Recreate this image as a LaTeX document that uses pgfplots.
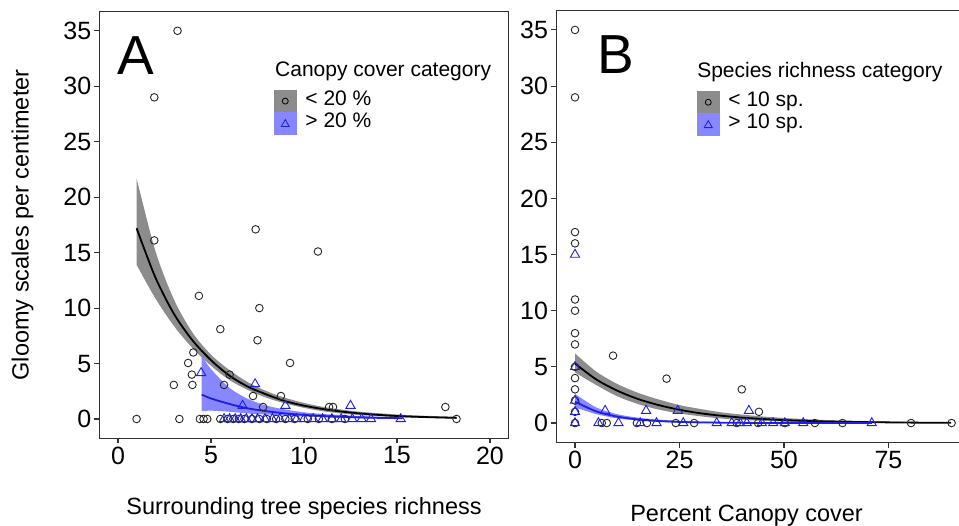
\documentclass[border=0pt]{standalone}
\usepackage{pgfplots}
\pgfplotsset{compat=1.18}
\usepackage{pgfplotstable}
\usepgfplotslibrary{fillbetween}
\usepackage{fontspec}
\setmainfont{Liberation Sans}

\definecolor{bandgray}{HTML}{8C8C8C}
\definecolor{bandblue}{HTML}{8787FF}
\definecolor{ptblue}{HTML}{1E1EE6}
\definecolor{framegray}{HTML}{333333}

% fitted curves with confidence bands
\pgfplotstableread{
x y lo hi
1 17.2 13.9 21.7
2 12.8 10.9 15.2
3 9.5 8.4 10.8
4 7.1 6.4 7.8
5 5.3 4.8 5.8
6 3.9 3.5 4.4
7 2.9 2.6 3.3
8 2.2 1.9 2.5
9 1.6 1.4 1.9
10 1.2 1.0 1.45
11 0.9 0.7 1.1
12 0.67 0.5 0.85
13 0.5 0.35 0.65
14 0.37 0.25 0.52
15 0.27 0.17 0.4
16 0.2 0.12 0.32
17 0.15 0.08 0.26
18.2 0.1 0.05 0.2
}\fitAblack
\pgfplotstableread{
x y lo hi
4.5 2.2 0.7 5.7
5 1.85 0.75 4.5
6 1.35 0.65 2.8
7 0.95 0.5 1.8
8 0.7 0.4 1.2
9 0.5 0.3 0.85
10 0.37 0.22 0.6
11 0.27 0.15 0.45
12 0.2 0.1 0.35
13 0.14 0.07 0.27
14 0.1 0.05 0.2
15.3 0.07 0.03 0.15
}\fitAblue
\pgfplotstableread{
x y lo hi
0 5.3 4.5 6.2
5 3.9 3.4 4.6
10 2.9 2.4 3.5
15 2.15 1.7 2.7
20 1.6 1.2 2.1
25 1.18 0.85 1.6
30 0.87 0.6 1.25
35 0.65 0.4 0.95
40 0.48 0.28 0.75
45 0.36 0.2 0.58
50 0.26 0.13 0.45
55 0.2 0.09 0.35
60 0.14 0.06 0.27
70 0.08 0.03 0.17
80 0.04 0.01 0.1
90 0.02 0.005 0.07
}\fitBblack
\pgfplotstableread{
x y lo hi
0 1.9 1.4 2.6
5 1.05 0.8 1.4
10 0.58 0.42 0.8
15 0.32 0.22 0.48
20 0.18 0.11 0.3
25 0.1 0.05 0.2
30 0.055 0.025 0.13
40 0.017 0.006 0.06
50 0.005 0.001 0.03
60 0.0015 0 0.015
71 0.0004 0 0.008
}\fitBblue

% observations
\pgfplotstableread{
x y
1.0 0
3.2 35
1.95 29
1.95 16.1
4.35 11.1
7.4 17.1
10.75 15.1
7.6 10.0
5.5 8.1
7.5 7.1
9.25 5.05
3.77 5.05
3.97 4.0
4.05 6.0
6.0 4.0
3.0 3.07
4.0 3.07
5.7 3.07
7.26 2.07
8.76 2.07
7.8 1.08
11.35 1.08
11.56 1.08
17.6 1.08
3.3 0
4.4 0
4.6 0
4.8 0
5.5 0
5.9 0
6.2 0
6.5 0
6.8 0
7.2 0
7.6 0
8.0 0
8.5 0
9.0 0
9.5 0
10.2 0
10.8 0
11.5 0
12.2 0
18.2 0
}\ptsAblack
\pgfplotstableread{
x y
4.47 4.15
7.37 3.15
6.7 1.2
9.0 1.2
12.5 1.2
5.7 0
6.0 0
6.3 0
6.6 0
6.9 0
7.2 0
7.5 0
7.9 0
8.3 0
8.7 0
9.2 0
9.6 0
10.0 0
10.5 0
11.0 0
11.5 0
12.0 0
12.6 0
13.1 0
13.6 0
15.2 0
}\ptsAblue
\pgfplotstableread{
x y
0 35
0 29
0 17
0 16
0 11
0 10
0 8
0 7
0 5
0 4
0 3
0 2
0 1
0 0
9.1 6.0
21.9 3.95
39.9 3.0
44.0 1.0
6.4 0
7.6 0
14.8 0
17.2 0
24.1 0
28.5 0
38.7 0
43.8 0
50.2 0
57.4 0
64.0 0
80.4 0
90.1 0
}\ptsBblack
\pgfplotstableread{
x y
0 15
0 5
0 2
0 1
0 0
7.2 1.1
17.0 1.1
24.6 1.1
41.6 1.1
5.6 0
10.4 0
15.6 0
19.5 0
25.9 0
33.9 0
37.5 0
39.5 0
41.1 0
44.7 0
47.4 0
50.2 0
54.6 0
71.0 0
}\ptsBblue

\pgfplotsset{
  panel/.style={
    scale only axis,
    axis line style={framegray, line width=1.1pt},
    tick style={framegray, line width=1.1pt},
    tick align=outside,
    major tick length=5pt,
    xtick pos=bottom, ytick pos=left,
    ymin=-1.75, ymax=36.75,
    ytick={0,5,...,35},
    /pgf/number format/assume math mode=true,
    ticklabel style={font=\fontsize{25}{25}\selectfont, inner sep=3pt},
    label style={font=\fontsize{23.5}{24}\selectfont},
    legend cell align=left,
    legend style={draw=none, fill=none, inner sep=0pt, outer sep=0pt,
      row sep=0pt, anchor=north west,
      font=\fontsize{21}{21}\selectfont,
      nodes={inner sep=0pt, text height=15pt, text depth=7pt},
      /tikz/every odd column/.append style={column sep=9pt}},
  },
  band/.style={draw=none, forget plot, smooth},
  fit/.style={line width=1.8pt, forget plot, smooth},
  keygray/.style={legend image code/.code={
      \fill[bandgray] (0pt,-11pt) rectangle (22pt,11pt);
      \draw[black, line width=0.8pt] (11pt,0pt) circle (3pt);}},
  keyblue/.style={legend image code/.code={
      \fill[bandblue] (0pt,-11pt) rectangle (22pt,11pt);
      \draw[ptblue, line width=0.8pt] (7pt,-3pt) -- (15pt,-3pt) -- (11pt,4pt) -- cycle;}},
  circ/.style={only marks, mark=o, mark size=3.8pt, mark options={black!85, line width=0.9pt}, forget plot},
  tri/.style={only marks, mark=triangle, mark size=5.3pt, mark options={ptblue, line width=0.9pt}, forget plot},
}

\begin{document}
\begin{tikzpicture}

% ---------- panel A ----------
\begin{axis}[panel,
  at={(99.4pt,87.6pt)}, anchor=south west,
  width=409.2pt, height=427pt,
  xmin=-1, xmax=21, xtick={0,5,...,20},
  xlabel={Surrounding tree species richness},
  ylabel={Gloomy scales per centimeter},
  xlabel style={at={(axis description cs:0.5,-0.163)}, anchor=center},
  ylabel style={at={(axis description cs:-0.188,0.5)}, anchor=center, rotate=0},
  legend style={at={(axis cs:8.39,29.67)}},
]
\addplot[band, name path=ahi] table[x=x,y=hi]{\fitAblack};
\addplot[band, name path=alo] table[x=x,y=lo]{\fitAblack};
\addplot[bandgray, forget plot] fill between[of=ahi and alo];
\addplot[band, name path=bhi] table[x=x,y=hi]{\fitAblue};
\addplot[band, name path=blo] table[x=x,y=lo]{\fitAblue};
\addplot[bandblue, forget plot] fill between[of=bhi and blo];
\addplot[fit, black] table[x=x,y=y]{\fitAblack};
\addplot[fit, ptblue] table[x=x,y=y]{\fitAblue};
\addplot[circ] table{\ptsAblack};
\addplot[tri] table{\ptsAblue};
\addlegendimage{keygray}
\addlegendentry{< 20 \%}
\addlegendimage{keyblue}
\addlegendentry{> 20 \%}
\node[font=\fontsize{55}{55}\selectfont] at (axis cs:0.97,32.8) {A};
\node[anchor=west, inner sep=0pt, font=\fontsize{21}{21}\selectfont] at (axis cs:8.44,31.3) {Canopy cover category};
\end{axis}

% ---------- panel B ----------
\begin{axis}[panel,
  at={(556.2pt,83.3pt)}, anchor=south west,
  width=413.8pt, height=432.4pt,
  xmin=-4.5, xmax=94.5, xtick={0,25,50,75},
  xlabel={Percent Canopy cover},
  xlabel style={at={(axis description cs:0.46,-0.17)}, anchor=center},
  legend style={at={(axis cs:29.2,29.56)}},
]
\addplot[band, name path=chi] table[x=x,y=hi]{\fitBblack};
\addplot[band, name path=clo] table[x=x,y=lo]{\fitBblack};
\addplot[bandgray, forget plot] fill between[of=chi and clo];
\addplot[band, name path=dhi] table[x=x,y=hi]{\fitBblue};
\addplot[band, name path=dlo] table[x=x,y=lo]{\fitBblue};
\addplot[bandblue, forget plot] fill between[of=dhi and dlo];
\addplot[fit, black] table[x=x,y=y]{\fitBblack};
\addplot[fit, ptblue] table[x=x,y=y]{\fitBblue};
\addplot[circ] table{\ptsBblack};
\addplot[tri] table{\ptsBblue};
\addlegendimage{keygray}
\addlegendentry{< 10 sp.}
\addlegendimage{keyblue}
\addlegendentry{> 10 sp.}
\node[font=\fontsize{55}{55}\selectfont] at (axis cs:9.8,32.8) {B};
\node[anchor=west, inner sep=0pt, font=\fontsize{21}{21}\selectfont] at (axis cs:29.2,31.25) {Species richness category};
\end{axis}

\pgfresetboundingbox
\path[use as bounding box] (0pt,0pt) rectangle (959pt,526pt);
\end{tikzpicture}
\end{document}
